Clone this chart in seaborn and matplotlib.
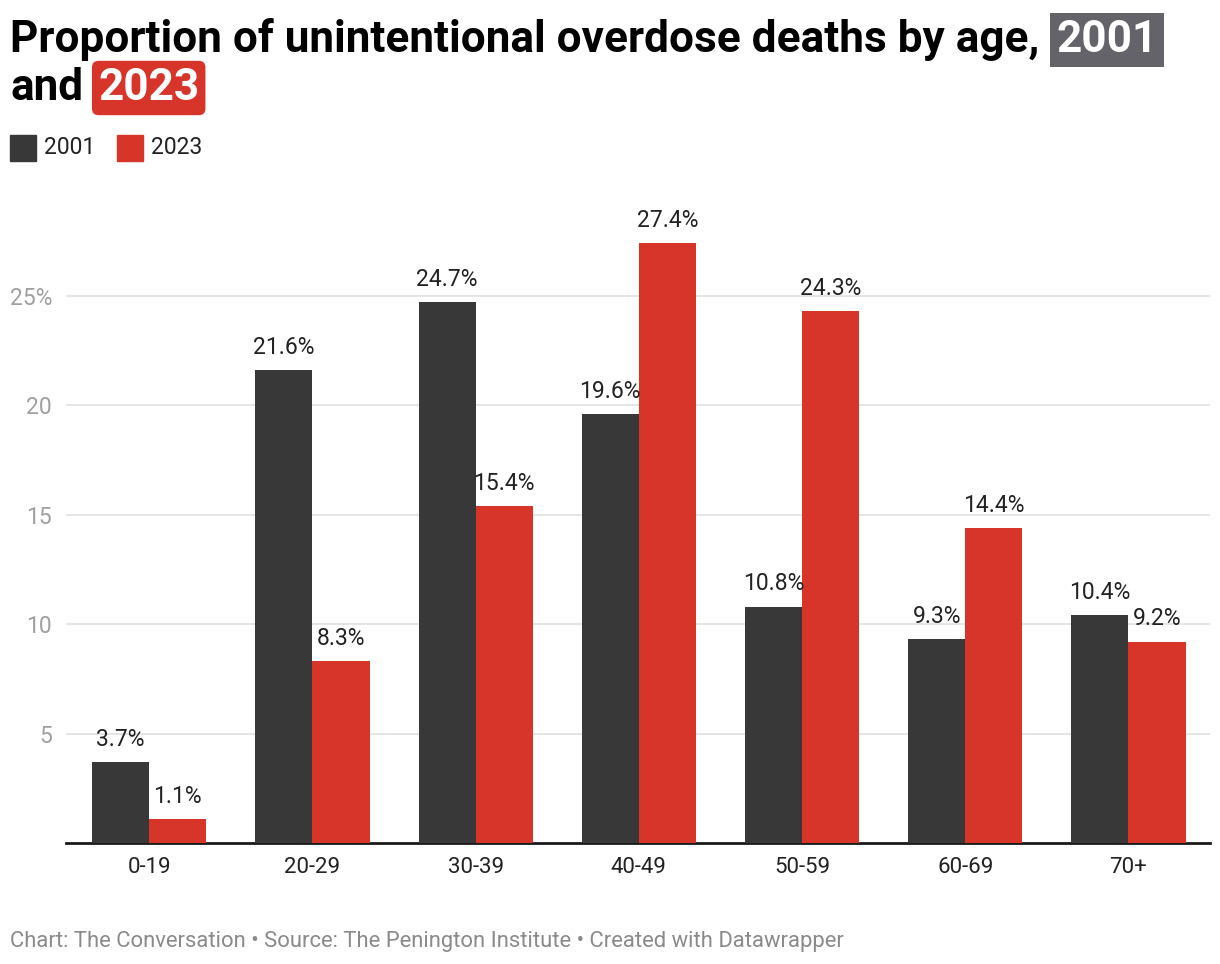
import pandas as pd
import matplotlib
matplotlib.use('Agg')
import matplotlib.pyplot as plt
import seaborn as sns

# Datos
edades = ['0-19', '20-29', '30-39', '40-49', '50-59', '60-69', '70+']
anios = ['2001', '2023']
val_2001 = [3.7, 21.6, 24.7, 19.6, 10.8, 9.3, 10.4]
val_2023 = [1.1, 8.3, 15.4, 27.4, 24.3, 14.4, 9.2]
yticks = [5, 10, 15, 20, 25]
ytick_labels = ['5', '10', '15', '20', '25%']

df = pd.DataFrame({
    'edad': edades * 2,
    'anio': ['2001'] * len(edades) + ['2023'] * len(edades),
    'valor': val_2001 + val_2023,
})

colores = {'2001': '#383838', '2023': '#d8352a'}

sns.set_style('white')
plt.rcParams['font.family'] = ['Roboto', 'DejaVu Sans']

fig = plt.figure(figsize=(12.2, 9.64), dpi=100)
ax = fig.add_axes([66 / 1220, 1 - 843 / 964, (1210 - 66) / 1220, (843 - 219) / 964])

sns.barplot(data=df, x='edad', y='valor', hue='anio', palette=colores,
            width=0.7, gap=0, saturation=1, ax=ax, legend=False, zorder=3,
            linewidth=0, edgecolor='none')

ax.set_xlim(-0.51, 6.5)
ax.set_ylim(0, 28.5)
ax.set_yticks(yticks)
ax.set_yticklabels(ytick_labels)
ax.yaxis.grid(True, color='#e3e3e3', linewidth=1.3, zorder=0)
ax.set_axisbelow(True)
for s in ['top', 'right', 'left']:
    ax.spines[s].set_visible(False)
ax.spines['bottom'].set_color('#1a1a1a')
ax.spines['bottom'].set_linewidth(2)
ax.tick_params(axis='y', length=0, labelsize=16.5, labelcolor='#a0a0a0', pad=10)
ax.tick_params(axis='x', length=0, labelsize=16, labelcolor='#222222', pad=10)
for lab in ax.get_yticklabels():
    lab.set_horizontalalignment('right')
ax.set_xlabel('')
ax.set_ylabel('')

# Etiquetas de valores
for cont in ax.containers:
    ax.bar_label(cont, labels=[f'{v:.1f}%' for v in cont.datavalues],
                 padding=8, fontsize=16.5, color='#222222', clip_on=False)

# Título con recuadros
renderer = fig.canvas.get_renderer()
t1 = fig.text(10 / 1220, 1 - 52 / 964, 'Proportion of unintentional overdose deaths by age,',
              fontsize=31.8, fontweight='bold', color='#000000', va='baseline')
bb = t1.get_window_extent(renderer)
fig.text(bb.x1 / 1220 + 17 / 1220, 1 - 52 / 964, '2001', fontsize=31.8, fontweight='bold',
         color='white', va='baseline',
         bbox=dict(boxstyle='square,pad=0.14', facecolor='#636369', edgecolor='none'))
t2 = fig.text(10 / 1220, 1 - 100 / 964, 'and', fontsize=31.8, fontweight='bold',
              color='#000000', va='baseline')
bb2 = t2.get_window_extent(renderer)
fig.text(bb2.x1 / 1220 + 15 / 1220, 1 - 100 / 964, '2023', fontsize=31.8, fontweight='bold',
         color='white', va='baseline',
         bbox=dict(boxstyle='round,pad=0.14,rounding_size=0.15', facecolor='#d8352a', edgecolor='none'))

# Leyenda manual
x0 = 10
for anio in anios:
    fig.patches.append(plt.Rectangle((x0 / 1220, 1 - 161 / 964), 26 / 1220, 26 / 964,
                                     transform=fig.transFigure, color=colores[anio]))
    t = fig.text((x0 + 34) / 1220, 1 - 148 / 964, anio, fontsize=16.5, color='#222222', va='center')
    x0 = t.get_window_extent(renderer).x1 + 22

# Pie
fig.text(10 / 1220, 1 - 941 / 964,
         'Chart: The Conversation • Source: The Penington Institute • Created with Datawrapper',
         fontsize=15.8, color='#8a8a8a', va='center')

fig.savefig('out.png', dpi=100, facecolor='white')
